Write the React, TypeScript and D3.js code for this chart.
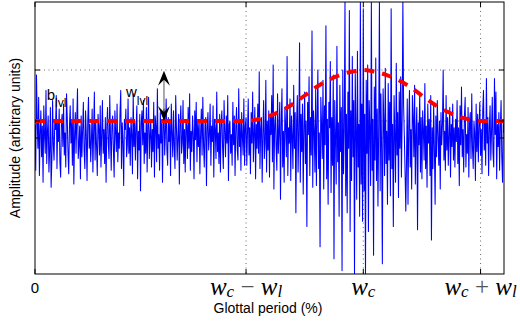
import React from "react";
import * as d3 from "d3";

// glottal period (%) axis, 0..100; samples equally spaced along it
const signal = [
  0.8, -1.9, 3.7, 1.1, -0.6, 2.4, -2.2, 0.3, 1.6, -1.1, 0.7, -2.6, 1.9, 0.2, -0.9, 2.8,
  -1.5, 0.4, 1.3, -2.0, -0.7, 1.8, -2.9, -1.3, 2.2, -0.4, -1.3, 1.0, 0.5, 2.5, -1.8, 0.9,
  -0.2, 1.7, -1.4, -2.3, 0.8, 1.4, -0.5, 2.0, -1.0, 0.3, -1.7, 2.6, 1.2, -0.8, -2.1, 0.6,
  1.9, -0.3, 0.9, -1.6, 2.3, -2.7, 0.1, 1.5, -0.9, 1.1, 2.9, -1.2, -0.4, 0.7, -2.4, 1.3,
  -1.1, 0.5, 2.1, -0.7, -1.8, 1.6, 0.2, -2.5, 1.0, 2.4, -0.6, 0.8, -1.4, -0.1, 1.7, -2.0,
  0.4, 2.7, -1.3, 0.9, -0.5, -2.2, 1.4, 0.6, -1.0, 1.9, -1.7, 0.2, 2.2, -0.9, 0.5, -1.5,
  1.2, -2.6, 0.7, 1.8, -0.3, -1.2, 2.5, 0.1, -1.9, 0.8, 1.3, -0.7, -2.3, 1.6, 0.4, -0.8,
  2.0, -1.4, 0.3, -0.6, 1.5, 2.8, -1.8, 0.9, -0.2, -2.8, 1.1, 0.5, 1.7, -1.1, -0.4, 2.3,
  -0.9, 0.6, -1.6, 1.2, 0.2, -2.1, 2.6, -0.5, 1.0, -1.3, 0.7, 1.9, -2.4, 0.4, -0.7, 1.4,
  -3.1, 0.9, 1.6, -0.4, 2.2, -1.5, 0.3, -0.9, 1.8, -2.0, 0.6, 2.4, -1.2, 0.1, 1.1, -1.7,
  0.5, -0.8, 2.1, -2.3, 1.3, 0.7, -1.4, 2.9, -0.6, 0.2, -1.9, 1.5, -0.3, 1.0, -2.6, 0.8,
  1.7, -1.0, 0.4, 2.3, -0.7, -1.6, 1.2, -0.2, 0.9, -2.2, 2.0, 0.3, -1.1, 1.6, -0.5, -1.8,
  2.5, 0.6, -1.3, 0.1, 1.4, -2.7, 0.8, 1.9, -0.9, -0.3, 2.2, -1.5, 0.5, -2.0, 1.1, 0.7,
  -1.2, 1.8, -0.6, 2.6, -1.9, 0.4, -0.8, 1.3, 0.2, -2.4, 1.6, -0.1, 2.1, -1.4, 0.9, -0.5,
  1.0, -2.1, 0.3, 1.7, -1.0, 2.4, -0.4, -1.7, 0.8, 1.2, -2.8, 0.6, 1.5, -0.7, 0.2, 2.0,
  -1.6, 0.7, -0.2, 1.9, -2.3, 1.1, 0.5, -1.2, 2.7, -0.8, 0.3, -1.5, 1.4, -2.0, 0.9, 1.6,
  -0.6, -1.8, 2.2, 0.4, -1.1, 1.3, -0.3, 2.5, -2.5, 0.8, 1.0, -0.9, 0.2, -1.6, 2.1, -0.4,
  1.3, -2.2, 0.6, 1.8, -0.7, -1.3, 2.9, -0.5, 0.9, -1.9, 1.5, 0.1, -1.0, 2.3, -1.6, 0.7,
  1.2, -1.6, 0.4, 2.3, -1.0, 0.6, -2.1, 1.5, -0.3, 2.7, -1.4, 0.2, 1.8, -2.4, 0.8, -0.6,
  2.0, -0.9, 3.9, -1.8, 0.5, 1.2, -2.6, 0.3, 2.2, -1.2, -0.3, 3.4, -2.0, 1.0, -0.7, 1.6,
  -2.3, 1.3, 0.2, 2.5, -1.4, 4.3, -3.0, 0.7, 1.5, -0.5, -1.9, 2.6, -0.9, 0.4, 2.1, -3.6,
  0.8, 2.9, -1.7, 0.4, -2.6, 1.8, 0.7, -1.1, 4.8, -2.2, 0.6, -0.3, 2.3, -2.5, 1.3, 0.1,
  -1.8, 3.1, -0.6, 1.5, -4.4, 1.0, 2.5, -2.0, 0.4, 5.6, -2.6, 1.4, -0.8, 2.0, -3.3, 0.6,
  2.7, -1.5, 1.0, -5.2, 2.1, 0.2, 3.6, -2.2, 1.2, -1.0, 6.3, -2.9, 1.6, 0.5, -2.0, 2.9,
  -2.8, 1.3, 4.0, -1.8, 0.3, -6.4, 2.4, 0.8, -1.2, 3.4, -3.0, 1.9, -0.4, 6.6, -2.4, 1.1,
  -3.9, 2.1, 0.6, 4.5, -3.2, 1.2, -1.6, 3.7, -7.1, 2.2, 0.1, -2.7, 5.4, -1.4, 0.9, -4.6,
  3.1, -0.8, 1.8, -7.8, 4.0, -2.1, 0.4, 8.0, -3.4, 1.4, -4.4, 2.7, -0.6, 7.5, -5.5, 1.6,
  -2.5, 4.8, -1.1, 2.2, -8.0, 3.8, 0.4, -3.6, 5.1, -1.7, 0.8, -4.6, 8.0, -2.7, 2.0, -4.9,
  7.6, -3.1, 1.4, -8.0, 3.4, -0.9, 4.3, -5.5, 2.2, 0.5, -2.8, 8.0, -1.9, 1.1, -6.9, 3.0,
  -1.3, 4.7, -2.5, 1.7, -4.0, 0.6, 8.0, -3.1, 2.6, -0.7, -7.4, 2.9, 1.0, -2.2, 4.1, -1.5,
  0.4, -3.9, 3.2, -1.3, 2.1, -3.4, 7.6, -1.8, 0.8, -5.2, 2.5, 0.2, -2.6, 4.4, -1.0, 1.5,
  -3.5, 2.7, -0.6, 3.6, -2.3, 1.1, 8.0, 1.9, 0.1, -2.0, -4.3, -1.2, 2.3, -3.9, 0.7, 2.8,
  -1.7, 0.5, -3.0, 2.5, 1.3, -1.1, 3.1, -2.7, 0.3, 1.8, -5.4, 0.9, -0.4, 2.7, -2.0, 1.2,
  -2.4, 1.6, 0.4, -1.3, 3.2, -1.8, 0.7, -2.9, 2.0, -0.3, 1.1, -2.2, 2.5, -6.0, 0.6, -1.8,
  2.0, -0.6, -3.9, 1.3, -1.1, 2.2, 0.2, -1.6, 1.0, -3.0, 1.5, -0.4, 0.8, 4.0, -1.3, 0.4,
  -1.9, 2.5, -0.7, 1.2, -1.6, 0.3, 1.8, -2.3, 0.8, -0.5, 2.0, -1.3, 0.6, -1.7, 1.1, -0.2,
  2.2, -1.5, 0.6, -2.8, 1.9, -0.4, 3.0, -1.1, 0.5, -2.0, 1.3, 2.4, -1.7, 0.2, -0.9, 1.8,
  -2.3, 0.9, 1.5, -1.2, 2.6, -0.6, -1.8, 1.0, 0.3, -2.5, 2.0, -0.8, 1.4, -1.4, 0.7, 2.1,
  -1.0, 0.5, -2.1, 1.6, 2.8, -0.7, 0.9, -1.6, 3.5, -0.3, 1.2, -2.2, 0.6, 1.9, -1.3, 0.4,
  2.4, -0.9, -1.7, 3.5, 0.2, 2.7, -2.4, 0.8, -0.5, 1.5, -1.9, 0.6, 2.2, -1.1, -2.6, 0.9,
  0.3,
];

// red dashed envelope (b_lvl = 1, b_lvl + w_lvl = 4)
const envX = [0, 45, 47.5, 50, 52.5, 55, 57.5, 60, 62.5, 65, 67.5, 70, 72.5, 75, 77.5, 80, 82.5, 85, 87.5, 90, 92.5, 95, 100];
const envY = [1, 1, 1.1, 1.3, 1.6, 2.0, 2.5, 3.0, 3.4, 3.7, 3.9, 4, 3.9, 3.7, 3.4, 3.0, 2.5, 2.0, 1.6, 1.3, 1.1, 1, 1];

const xTicks = [0, 45, 70, 95];
const yTicks = [0, 1, 4];

const sans = "'Liberation Sans', Arial, sans-serif";
const serif = "'Liberation Serif', 'Times New Roman', serif";

export default function App() {
  const x = d3.scaleLinear().domain([0, 100]).range([35, 504]);
  const y = d3.scaleLinear().domain([-8, 8]).range([274, 2]);
  const xi = d3.scaleLinear().domain([0, signal.length - 1]).range([0, 100]);

  const sigLine = d3.line<number>().x((d, i) => x(xi(i))).y(d => y(d));
  const envLine = d3
    .line<number>()
    .x((d, i) => x(envX[i]))
    .y(d => y(d))
    .curve(d3.curveMonotoneX);

  const [x0, x1] = x.range();
  const [y0, y1] = y.range();
  const tl = 5;

  // double arrow between b_lvl and b_lvl + w_lvl
  const ax = x(27.5);
  const aTop = y(3.95);
  const aBot = y(1.0);

  const mathLabel = (v: number, parts: React.ReactNode) => (
    <text key={v} x={x(v)} y={295} textAnchor="middle" fontFamily={serif} fontSize={25}>
      {parts}
    </text>
  );

  return (
    <svg width={520} height={323} style={{ position: "absolute", left: 0, top: 0 }}>
      <defs>
        <clipPath id="plot">
          <rect x={x0} y={y1} width={x1 - x0} height={y0 - y1} />
        </clipPath>
      </defs>
      <rect x={0} y={0} width={520} height={323} fill="#fff" />

      {/* grid */}
      <g stroke="#444" strokeWidth={0.8} strokeDasharray="1 3.5">
        {xTicks.slice(1).map(t => (
          <line key={t} x1={x(t)} x2={x(t)} y1={y1} y2={y0} />
        ))}
        {yTicks.map(t => (
          <line key={t} x1={x0} x2={x1} y1={y(t)} y2={y(t)} />
        ))}
      </g>

      <g clipPath="url(#plot)">
        <path d={sigLine(signal) || ""} fill="none" stroke="#0000ff" strokeWidth={1.05} strokeLinejoin="round" />
        <path d={envLine(envY) || ""} fill="none" stroke="#ff0000" strokeWidth={4} strokeDasharray="10 8" />
      </g>

      {/* frame and ticks */}
      <rect x={x0} y={y1} width={x1 - x0} height={y0 - y1} fill="none" stroke="#000" strokeWidth={1} />
      <g stroke="#000" strokeWidth={1}>
        {xTicks.map(t => (
          <g key={t}>
            <line x1={x(t)} x2={x(t)} y1={y0} y2={y0 - tl} />
            <line x1={x(t)} x2={x(t)} y1={y1} y2={y1 + tl} />
          </g>
        ))}
        {yTicks.map(t => (
          <g key={t}>
            <line x1={x0} x2={x0 + tl} y1={y(t)} y2={y(t)} />
            <line x1={x1} x2={x1 - tl} y1={y(t)} y2={y(t)} />
          </g>
        ))}
      </g>

      {/* x tick labels */}
      <text x={x(0)} y={293} textAnchor="middle" fontFamily={sans} fontSize={15}>0</text>
      {mathLabel(45, [
        <tspan key="a" fontStyle="italic">w</tspan>,
        <tspan key="b" fontStyle="italic" fontSize={17} dy={2}>c</tspan>,
        <tspan key="c" dy={-2} fill="#555"> − </tspan>,
        <tspan key="d" fontStyle="italic">w</tspan>,
        <tspan key="e" fontStyle="italic" fontSize={17} dy={2}>l</tspan>,
      ])}
      {mathLabel(70, [
        <tspan key="a" fontStyle="italic">w</tspan>,
        <tspan key="b" fontStyle="italic" fontSize={17} dy={2}>c</tspan>,
      ])}
      {mathLabel(95, [
        <tspan key="a" fontStyle="italic">w</tspan>,
        <tspan key="b" fontStyle="italic" fontSize={17} dy={2}>c</tspan>,
        <tspan key="c" dy={-2} fill="#555"> + </tspan>,
        <tspan key="d" fontStyle="italic">w</tspan>,
        <tspan key="e" fontStyle="italic" fontSize={17} dy={2}>l</tspan>,
      ])}

      {/* axis titles */}
      <text x={268} y={313} textAnchor="middle" fontFamily={sans} fontSize={14}>Glottal period (%)</text>
      <text
        transform={`translate(20,${(y0 + y1) / 2}) rotate(-90)`}
        textAnchor="middle"
        fontFamily={sans}
        fontSize={14}
      >
        Amplitude (arbitrary units)
      </text>

      {/* annotations */}
      <text x={x(2.5)} y={100} fontFamily={sans} fontSize={15}>
        b<tspan fontSize={12} dy={7}>lvl</tspan>
      </text>
      <text x={x(19.4)} y={97} fontFamily={sans} fontSize={15}>
        w<tspan fontSize={12} dy={8}>lvl</tspan>
      </text>
      <line x1={ax} x2={ax} y1={aTop + 4} y2={aBot - 4} stroke="#555" strokeWidth={1} />
      <path d={`M${ax},${aTop} L${ax + 6},${aTop + 15} L${ax},${aTop + 9} L${ax - 6},${aTop + 15} Z`} fill="#000" />
      <path d={`M${ax},${aBot} L${ax + 6},${aBot - 15} L${ax},${aBot - 9} L${ax - 6},${aBot - 15} Z`} fill="#000" />
    </svg>
  );
}
